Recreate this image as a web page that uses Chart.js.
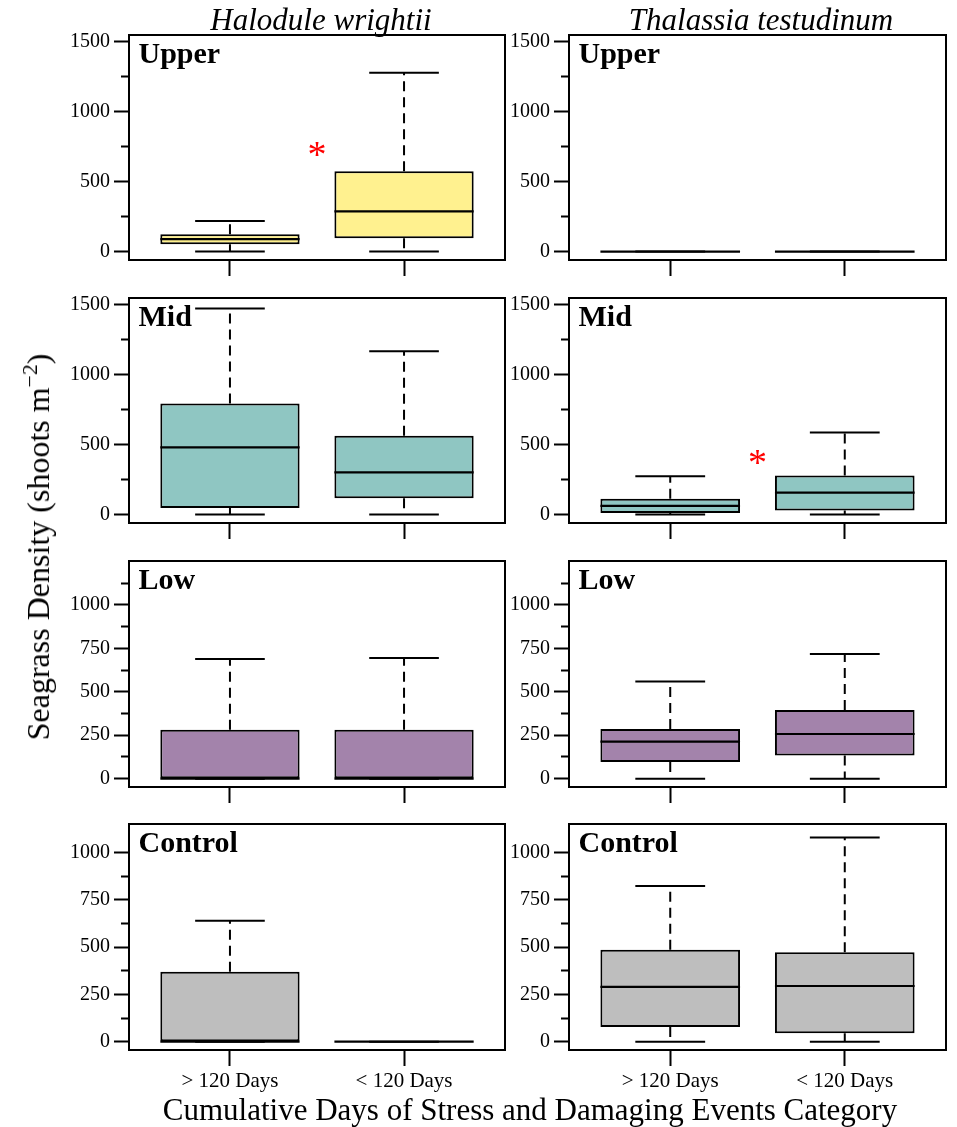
<!DOCTYPE html>
<html>
<head>
<meta charset="utf-8">
<script src="https://cdn.jsdelivr.net/npm/chart.js@4.4.1/dist/chart.umd.min.js"></script>
<style>
  html, body { margin: 0; padding: 0; background: #fff; }
  body { position: relative; width: 957px; height: 1127px; overflow: hidden;
         font-family: "Liberation Serif", "Times New Roman", serif; color: #000; }
  .panel { position: absolute; }
  .txt { position: absolute; white-space: nowrap; line-height: 1; color: #000; }
  .species { font-style: italic; font-size: 31px; transform: translateX(-50%); }
  .zone { font-weight: bold; font-size: 30px; }
  .ytitle { font-size: 32px; transform: translate(-50%, -50%) rotate(-90deg); }
  .ytitle sup { font-size: 0.68em; vertical-align: 0.55em; line-height: 0; }
  .xtitle { font-size: 31px; transform: translateX(-50%); }
</style>
</head>
<body>
<script>
const SERIF = '"Liberation Serif", "Times New Roman", serif';

// x categories and panel names
const categories = ['> 120 Days', '< 120 Days'];
const zones = ['Upper', 'Mid', 'Low', 'Control'];
const species = ['Halodule wrightii', 'Thalassia testudinum'];

// box summaries per category: [lower whisker, Q1, median, Q3, upper whisker]
const halUpper   = [[0, 52, 90, 124, 219],   [0, 95, 288, 575, 1279]];
const halMid     = [[0, 48, 481, 795, 1474], [0, 117, 302, 564, 1169]];
const halLow     = [[0, 0, 0, 282, 689],     [0, 0, 0, 282, 695]];
const halControl = [[0, 0, 0, 370, 639],     [0, 0, 0, 0, 0]];
const thaUpper   = [[0, 0, 0, 0, 0],         [0, 0, 0, 0, 0]];
const thaMid     = [[0, 12, 62, 114, 274],   [0, 29, 157, 279, 588]];
const thaLow     = [[0, 96, 213, 286, 559],  [0, 134, 257, 395, 718]];
const thaControl = [[0, 77, 289, 486, 822],  [0, 44, 294, 472, 1079]];

// significance markers (x between categories, y in shoots m-2)
const halUpperSig = [{ x: 1.5, y: 732 }];
const thaMidSig   = [{ x: 1.5, y: 410 }];

// y tick values per row
const tallTicks    = [0, 250, 500, 750, 1000, 1250, 1500];
const lowTicks     = [0, 125, 250, 375, 500, 625, 750, 875, 1000, 1125];
const controlTicks = [0, 125, 250, 375, 500, 625, 750, 875, 1000];

// ---------------- layout / styling ----------------
const zoneFill  = ['#FFF18F', '#8FC6C2', '#A383AB', '#BEBEBE'];
const rowTicks  = [tallTicks, tallTicks, lowTicks, controlTicks];
const rowLabelStep = [500, 500, 250, 250];
const rowRange  = [[-60, 1550], [-60, 1550], [-48, 1253], [-44, 1150]];
const colFrame  = [[129, 505], [569, 946]];
const rowFrame  = [[35, 260], [298, 523], [561, 787], [824, 1050]];

const panels = [
  { col: 0, row: 0, data: halUpper,   sig: halUpperSig },
  { col: 0, row: 1, data: halMid,     sig: [] },
  { col: 0, row: 2, data: halLow,     sig: [] },
  { col: 0, row: 3, data: halControl, sig: [] },
  { col: 1, row: 0, data: thaUpper,   sig: [] },
  { col: 1, row: 1, data: thaMid,     sig: thaMidSig },
  { col: 1, row: 2, data: thaLow,     sig: [] },
  { col: 1, row: 3, data: thaControl, sig: [] }
];

// red asterisks drawn through the panel's scales
const sigPlugin = {
  id: 'sigMarks',
  afterDatasetsDraw(chart, args, opts) {
    const marks = opts.marks || [];
    if (!marks.length) return;
    const { ctx } = chart;
    const xs = chart.scales.x, ys = chart.scales.y;
    const size = 38;
    ctx.save();
    ctx.fillStyle = '#FF0000';
    ctx.font = size + 'px ' + SERIF;
    ctx.textAlign = 'center';
    ctx.textBaseline = 'alphabetic';
    marks.forEach(m => {
      ctx.fillText('*', xs.getPixelForValue(m.x), ys.getPixelForValue(m.y) + 0.47 * size);
    });
    ctx.restore();
  }
};

function boxDatasets(summary, fill) {
  const boxes = summary.map((s, i) => ({ x: i + 1, y: [s[1], s[3]] }));
  const whiskers = [], caps = [], medians = [];
  summary.forEach((s, i) => {
    const x = i + 1;
    whiskers.push({ x, y: s[3] }, { x, y: s[4] }, { x, y: null },
                  { x, y: s[1] }, { x, y: s[0] }, { x, y: null });
    caps.push({ x: x - 0.2, y: s[4] }, { x: x + 0.2, y: s[4] }, { x, y: null },
              { x: x - 0.2, y: s[0] }, { x: x + 0.2, y: s[0] }, { x, y: null });
    medians.push({ x: x - 0.4, y: s[2] }, { x: x + 0.4, y: s[2] }, { x, y: null });
  });
  const lineBase = { type: 'line', pointRadius: 0, fill: false, tension: 0,
                     borderColor: '#000', spanGaps: false, order: 0 };
  return [
    { type: 'bar', data: boxes, backgroundColor: fill, borderColor: '#000',
      borderWidth: 2, borderSkipped: false, barPercentage: 0.8,
      categoryPercentage: 1.0, grouped: false, order: 5 },
    Object.assign({}, lineBase, { data: whiskers, borderWidth: 2, borderDash: [10, 6] }),
    Object.assign({}, lineBase, { data: caps, borderWidth: 2 }),
    Object.assign({}, lineBase, { data: medians, borderWidth: 2.2 })
  ];
}

function addText(cls, html, left, top) {
  const d = document.createElement('div');
  d.className = 'txt ' + cls;
  d.innerHTML = html;
  d.style.left = left + 'px';
  d.style.top = top + 'px';
  document.body.appendChild(d);
  return d;
}

// keep tick-label overflow from shrinking the plotting frame
function noPadding(s) {
  s.paddingTop = 0; s.paddingBottom = 0; s.paddingLeft = 0; s.paddingRight = 0;
}

panels.forEach(p => {
  const [fl, fr] = colFrame[p.col];
  const [ft, fb] = rowFrame[p.row];
  const padL = 80, padR = 8, padT = 8;
  const isBottom = p.row === 3;
  const padB = isBottom ? 46 : 22;
  const W = (fr - fl) + padL + padR;
  const H = (fb - ft) + padT + padB;

  const wrap = document.createElement('div');
  wrap.className = 'panel';
  wrap.style.left = (fl - padL) + 'px';
  wrap.style.top = (ft - padT) + 'px';
  wrap.style.width = W + 'px';
  wrap.style.height = H + 'px';
  const cv = document.createElement('canvas');
  cv.width = W; cv.height = H;
  cv.style.width = W + 'px'; cv.style.height = H + 'px';
  wrap.appendChild(cv);
  document.body.appendChild(wrap);

  const [ymin, ymax] = rowRange[p.row];
  const tickVals = rowTicks[p.row];
  const step = rowLabelStep[p.row];
  const frameBorder = { display: true, width: 2, color: '#000' };

  new Chart(cv, {
    type: 'bar',
    data: { datasets: boxDatasets(p.data, zoneFill[p.row]) },
    plugins: [sigPlugin],
    options: {
      responsive: false,
      maintainAspectRatio: false,
      animation: false,
      events: [],
      layout: { padding: 0 },
      plugins: {
        legend: { display: false },
        tooltip: { enabled: false },
        sigMarks: { marks: p.sig }
      },
      scales: {
        x: {
          type: 'linear', position: 'bottom', min: 0.42, max: 2.58, offset: false,
          afterBuildTicks: s => { s.ticks = categories.map((c, i) => ({ value: i + 1 })); },
          afterFit: s => { s.height = padB; noPadding(s); },
          grid: { display: true, offset: false, drawOnChartArea: false, drawTicks: true,
                  tickLength: 16, tickWidth: 2, tickColor: '#000' },
          border: frameBorder,
          ticks: { display: isBottom, autoSkip: false, maxRotation: 0, padding: 3,
                   color: '#000', font: { family: SERIF, size: 21 },
                   callback: v => categories[Math.round(v) - 1] }
        },
        y: {
          type: 'linear', position: 'left', min: ymin, max: ymax, beginAtZero: false,
          afterBuildTicks: s => { s.ticks = tickVals.map(v => ({ value: v })); },
          afterFit: s => { s.width = padL; noPadding(s); },
          grid: { display: true, drawOnChartArea: false, drawTicks: true,
                  tickLength: 15, tickWidth: 2, tickColor: '#000',
                  tickBorderDash: ctx => (ctx.tick && ctx.tick.value % step !== 0) ? [0, 7, 30] : [] },
          border: frameBorder,
          ticks: { autoSkip: false, padding: 4, color: '#000',
                   font: { family: SERIF, size: 20 },
                   callback: v => (v % step === 0 ? String(v) : '') }
        },
        xTop: {
          type: 'linear', position: 'top', min: 0.42, max: 2.58,
          afterFit: s => { s.height = padT; noPadding(s); },
          grid: { display: true, drawOnChartArea: false, drawTicks: false },
          border: frameBorder,
          ticks: { display: false }
        },
        yRight: {
          type: 'linear', position: 'right', min: ymin, max: ymax,
          afterFit: s => { s.width = padR; noPadding(s); },
          grid: { display: true, drawOnChartArea: false, drawTicks: false },
          border: frameBorder,
          ticks: { display: false }
        }
      }
    }
  });

  // zone name in the panel's top-left corner
  addText('zone', zones[p.row], fl + 9.5, ft + 2.5);
});

// column titles
addText('species', species[0], 321, 4);
addText('species', species[1], 761, 4);

// axis titles
addText('ytitle', 'Seagrass Density (shoots m<sup>\u22122</sup>)', 38, 547);
addText('xtitle', 'Cumulative Days of Stress and Damaging Events Category', 530, 1094);
</script>
</body>
</html>
